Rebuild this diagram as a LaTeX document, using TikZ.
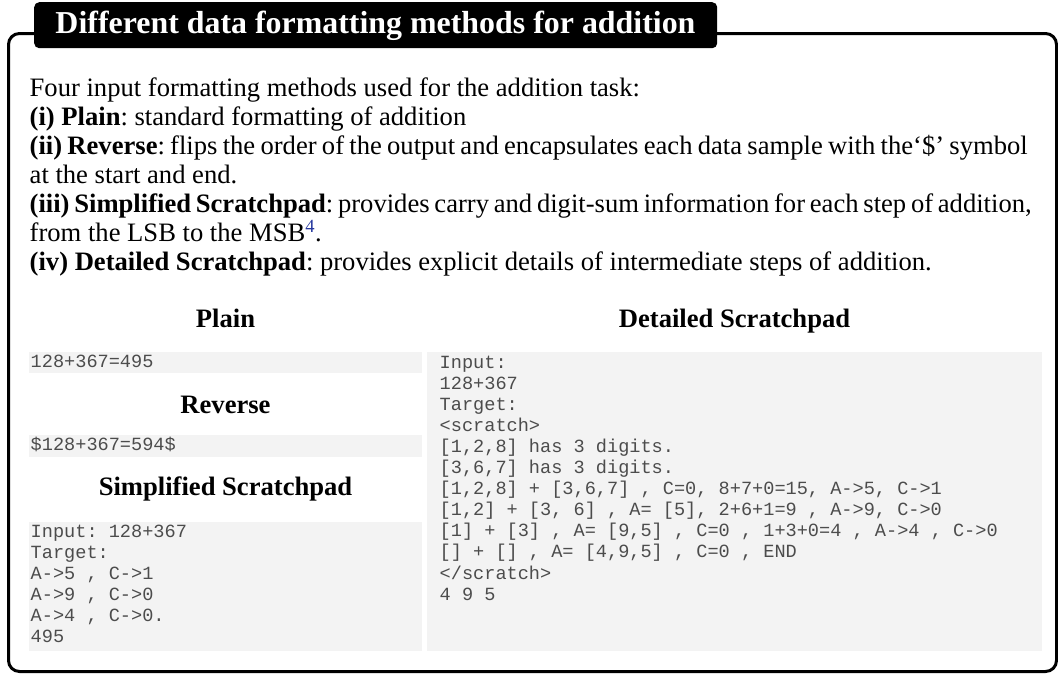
\documentclass[tikz,border=0pt]{standalone}
\usepackage{fontspec}
\setmainfont{Liberation Serif}
\newfontfamily\codefont{Liberation Mono}
\frenchspacing
\definecolor{boxgray}{rgb}{0.953,0.953,0.953}
\definecolor{codegray}{rgb}{0.30,0.30,0.30}
\definecolor{footblue}{rgb}{0.15,0.22,0.62}
\tikzset{
  frame/.style={draw=black, line width=3pt, rounded corners=11pt},
  titlebox/.style={fill=black, rounded corners=5pt},
  titletext/.style={anchor=base, inner sep=0pt, text=white, font=\fontsize{31.9}{36}\selectfont\bfseries},
  body/.style={anchor=base west, inner sep=0pt, font=\frenchspacing\fontsize{26.6}{29}\selectfont},
  head/.style={anchor=base, inner sep=0pt, font=\fontsize{26.6}{29}\selectfont\bfseries},
  codebox/.style={fill=boxgray, draw=none, inner sep=0pt, outer sep=0pt, anchor=north west},
  code/.style={anchor=base west, inner sep=0pt, text=codegray, font=\frenchspacing\codefont\fontsize{18.6}{21.1}\selectfont},
}
\begin{document}
\begin{tikzpicture}[x=1pt,y=-1pt]
\useasboundingbox (0,0) rectangle (1058,675);
% outer frame
\node[frame, minimum width=1048pt, minimum height=638pt, anchor=north west] (frame) at (7,32) {};
% title
\node[titlebox, minimum width=683pt, minimum height=46pt, anchor=north west] (tbox) at (34,2) {};
\node[titletext] (title) at (375.5,33.3) {Different data formatting methods for addition};
% description
\node[body] (l1) at (29.5,96.3) {Four input formatting methods used for the addition task:};
\node[body] (l2) at (29.5,125.3) {\textbf{(i) Plain}: standard formatting of addition};
\node[body] (l3) at (29.5,154.3) {\makebox[998pt][s]{\textbf{(ii) Reverse}: flips the order of the output and encapsulates each data sample with the‘\$’ symbol}};
\node[body] (l4) at (29.5,183.3) {at the start and end.};
\node[body] (l5) at (29.5,212.3) {\makebox[1002pt][s]{\textbf{(iii) Simplified Scratchpad}: provides carry and digit-sum information for each step of addition,}};
\node[body] (l6) at (29.5,241.3) {from the LSB to the MSB\textsuperscript{\color{footblue}4}.};
\node[body] (l7) at (29.5,270.3) {\textbf{(iv) Detailed Scratchpad}: provides explicit details of intermediate steps of addition.};
% headings
\node[head] (hplain) at (225.5,327) {Plain};
\node[head] (hdet) at (734.5,327) {Detailed Scratchpad};
\node[head] (hrev) at (225.5,413.3) {Reverse};
\node[head] (hsimp) at (225.5,495) {Simplified Scratchpad};
% code boxes
\node[codebox, minimum width=393pt, minimum height=21pt] (bplain) at (29,352) {};
\node[codebox, minimum width=393pt, minimum height=22pt] (brev) at (29,435) {};
\node[codebox, minimum width=393pt, minimum height=128.5pt] (bsimp) at (29,522) {};
\node[codebox, minimum width=615pt, minimum height=299pt] (bdet) at (427,352) {};
% plain
\node[code] (cp) at (30.5,367.7) {128+367=495};
% reverse
\node[code] (cr) at (30.5,450.7) {\$128+367=594\$};
% simplified
\node[code] (s1) at (30.5,537.3) {Input: 128+367};
\node[code] (s2) at (30.5,558.4) {Target:};
\node[code] (s3) at (30.5,579.5) {A->5 , C->1};
\node[code] (s4) at (30.5,600.6) {A->9 , C->0};
\node[code] (s5) at (30.5,621.7) {A->4 , C->0.};
\node[code] (s6) at (30.5,642.8) {495};
% detailed
\node[code] (d1) at (439.5,368.0) {Input:};
\node[code] (d2) at (439.5,389.1) {128+367};
\node[code] (d3) at (439.5,410.2) {Target:};
\node[code] (d4) at (439.5,431.3) {<scratch>};
\node[code] (d5) at (439.5,452.4) {[1,2,8] has 3 digits.};
\node[code] (d6) at (439.5,473.5) {[3,6,7] has 3 digits.};
\node[code] (d7) at (439.5,494.6) {[1,2,8] + [3,6,7] , C=0, 8+7+0=15, A->5, C->1};
\node[code] (d8) at (439.5,515.7) {[1,2] + [3, 6] , A= [5], 2+6+1=9 , A->9, C->0};
\node[code] (d9) at (439.5,536.8) {[1] + [3] , A= [9,5] , C=0 , 1+3+0=4 , A->4 , C->0};
\node[code] (d10) at (439.5,557.9) {[] + [] , A= [4,9,5] , C=0 , END};
\node[code] (d11) at (439.5,579.0) {</scratch>};
\node[code] (d12) at (439.5,600.1) {4 9 5};
\end{tikzpicture}
\end{document}
